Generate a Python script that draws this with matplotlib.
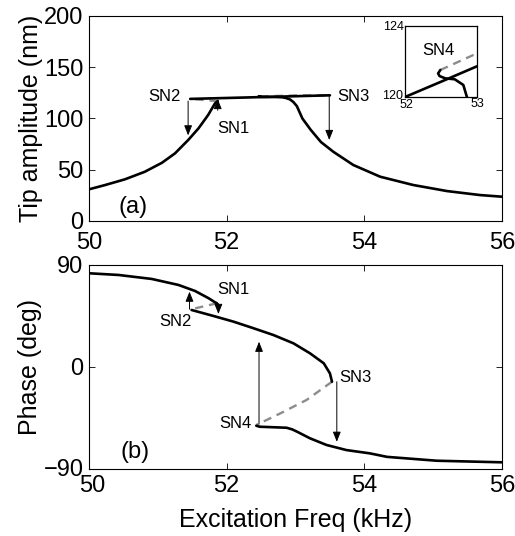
import matplotlib
matplotlib.use("Agg")
import matplotlib.pyplot as plt
from matplotlib.transforms import ScaledTranslation

plt.rcParams["font.family"] = ["Liberation Sans", "DejaVu Sans"]

# ---------------------------------------------------------------------------
# Data
# ---------------------------------------------------------------------------

# (a) tip amplitude (nm) vs excitation freq (kHz)
amp_low_x = [50.0, 50.23, 50.52, 50.81, 51.06, 51.25, 51.44, 51.59, 51.73, 51.83, 51.87]
amp_low_y = [30.9, 35.0, 40.6, 48.0, 56.8, 66.0, 78.9, 90.3, 103.3, 114.7, 117.0]

amp_sn12_x = [51.87, 51.7, 51.47]
amp_sn12_y = [117.0, 117.8, 119.1]

amp_up_x = [51.47, 52.0, 52.5, 53.0, 53.5]
amp_up_y = [119.1, 120.0, 120.86, 121.73, 122.6]

amp_right_x = [52.49, 52.46, 52.48, 52.56, 52.69, 52.81, 52.86, 52.92, 52.97, 53.02,
               53.1, 53.22, 53.37, 53.55, 53.84, 54.23, 54.71, 55.2, 55.68, 56.0]
amp_right_y = [121.52, 121.33, 121.18, 121.05, 121.0, 120.68, 120.0, 118.6, 116.0, 112.0,
               100.0, 89.0, 77.0, 67.5, 54.6, 43.2, 35.1, 29.2, 25.3, 23.7]

amp_sn43_x = [52.49, 53.0, 53.5]
amp_sn43_y = [121.52, 122.46, 122.6]

# (b) phase (deg)
ph_up_x = [50.0, 50.43, 50.91, 51.3, 51.54, 51.74, 51.83, 51.86]
ph_up_y = [82.7, 81.2, 77.7, 72.4, 67.1, 60.6, 57.1, 56.2]

ph_sn12_x = [51.86, 51.7, 51.49]
ph_sn12_y = [56.2, 54.0, 51.0]

ph_mid_x = [51.49, 51.81, 52.1, 52.39, 52.68, 52.97, 53.21, 53.41, 53.5, 53.53]
ph_mid_y = [50.3, 45.0, 40.0, 34.2, 28.2, 20.9, 12.1, 3.3, -5.6, -13.0]

ph_sn34_x = [53.53, 53.16, 52.78, 52.43]
ph_sn34_y = [-13.0, -29.1, -40.9, -51.2]

ph_low_x = [52.43, 52.48, 52.87, 52.95, 53.02, 53.21, 53.45, 53.74, 54.08, 54.33, 55.05, 56.0]
ph_low_y = [-51.8, -52.7, -53.6, -55.0, -57.0, -62.9, -68.8, -73.3, -76.2, -79.3, -82.7, -84.1]

# jump arrows: (x, y_from, y_to)
amp_arrows = [(51.44, 117.0, 83.5), (51.87, 108.0, 119.0), (53.49, 122.6, 79.0)]
ph_arrows = [(51.46, 51.0, 66.5), (51.88, 56.0, 46.8), (52.47, -50.5, 22.3), (53.6, -13.0, -66.0)]

amp_labels = [("SN2", 51.1, 121.1), ("SN1", 52.1, 90.3), ("SN3", 53.84, 121.1)]
ph_labels = [("SN1", 52.1, 68.0), ("SN2", 51.25, 40.0), ("SN3", 53.87, -9.0), ("SN4", 52.12, -50.0)]

# ---------------------------------------------------------------------------
# Plot
# ---------------------------------------------------------------------------

STABLE = dict(color="black", lw=1.9, solid_capstyle="round", solid_joinstyle="round")
UNSTABLE = dict(color="#8c8c8c", lw=1.7, ls=(0, (3.5, 2.5)))
ARROW = dict(arrowstyle="-|>,head_length=0.6,head_width=0.24", color="black", lw=0.7,
             shrinkA=0, shrinkB=0)


def style_axes(ax, size=17):
    ax.tick_params(direction="in", top=True, right=True, labelsize=size, length=4, width=0.6)
    for s in ax.spines.values():
        s.set_linewidth(0.8)


def draw_arrows(ax, arrows):
    for x, y0, y1 in arrows:
        ax.annotate("", xy=(x, y1), xytext=(x, y0), arrowprops=ARROW)


def nudge(label, dx_px, dy_px):
    label.set_transform(label.get_transform()
                        + ScaledTranslation(dx_px / 100, dy_px / 100, fig.dpi_scale_trans))


fig = plt.figure(figsize=(5.15, 5.36), dpi=100)
ax1 = fig.add_axes([0.1728, 0.5877, 0.802, 0.3825])
ax2 = fig.add_axes([0.1728, 0.125, 0.802, 0.3806])

# (a)
ax1.plot(amp_sn12_x, amp_sn12_y, **UNSTABLE)
ax1.plot(amp_sn43_x, amp_sn43_y, **UNSTABLE)
ax1.plot(amp_low_x, amp_low_y, **STABLE)
ax1.plot(amp_up_x, amp_up_y, **STABLE)
ax1.plot(amp_right_x, amp_right_y, **STABLE)
draw_arrows(ax1, amp_arrows)
for t, x, y in amp_labels:
    ax1.text(x, y, t, fontsize=12, ha="center", va="center")
ax1.text(50.64, 14.0, "(a)", fontsize=17, ha="center", va="center")
ax1.set_xlim(50, 56)
ax1.set_ylim(0, 200)
ax1.set_xticks([50, 52, 54, 56])
ax1.set_yticks([0, 50, 100, 150, 200])
ax1.set_ylabel("Tip amplitude (nm)", fontsize=18, labelpad=1)
style_axes(ax1)
ax1.tick_params(axis="x", pad=8)
ax1.tick_params(axis="y", pad=4)

# inset zoom near SN4
axi = fig.add_axes([0.7864, 0.819, 0.1398, 0.1325])
axi.plot(amp_sn43_x, amp_sn43_y, **UNSTABLE)
axi.plot(amp_up_x, amp_up_y, **STABLE)
axi.plot(amp_right_x, amp_right_y, **STABLE)
axi.text(52.46, 122.6, "SN4", fontsize=12, ha="center", va="center")
axi.set_xlim(52, 53)
axi.set_ylim(120, 124)
axi.set_xticks([52, 53])
axi.set_yticks([120, 124])
axi.tick_params(length=0, labelsize=9, pad=1)
for s in axi.spines.values():
    s.set_linewidth(0.9)
nudge(axi.get_yticklabels()[0], -1, 3)
nudge(axi.get_xticklabels()[0], 1, -1)

# (b)
ax2.plot(ph_sn12_x, ph_sn12_y, **UNSTABLE)
ax2.plot(ph_sn34_x, ph_sn34_y, **UNSTABLE)
ax2.plot(ph_up_x, ph_up_y, **STABLE)
ax2.plot(ph_mid_x, ph_mid_y, **STABLE)
ax2.plot(ph_low_x, ph_low_y, **STABLE)
draw_arrows(ax2, ph_arrows)
for t, x, y in ph_labels:
    ax2.text(x, y, t, fontsize=12, ha="center", va="center")
ax2.text(50.67, -75.0, "(b)", fontsize=17, ha="center", va="center")
ax2.set_xlim(50, 56)
ax2.set_ylim(-90, 90)
ax2.set_xticks([50, 52, 54, 56])
ax2.set_yticks([-90, 0, 90])
ax2.set_yticklabels(["\u221290", "0", "90"])
ax2.set_ylabel("Phase (deg)", fontsize=18, labelpad=1)
ax2.set_xlabel("Excitation Freq (kHz)", fontsize=18, labelpad=8)
style_axes(ax2)
ax2.tick_params(axis="x", pad=4)
ax2.tick_params(axis="y", pad=4)
nudge(ax2.get_yticklabels()[0], 0, 2)
nudge(ax2.get_xticklabels()[0], 3, 0)

fig.savefig("out.png", dpi=100)
